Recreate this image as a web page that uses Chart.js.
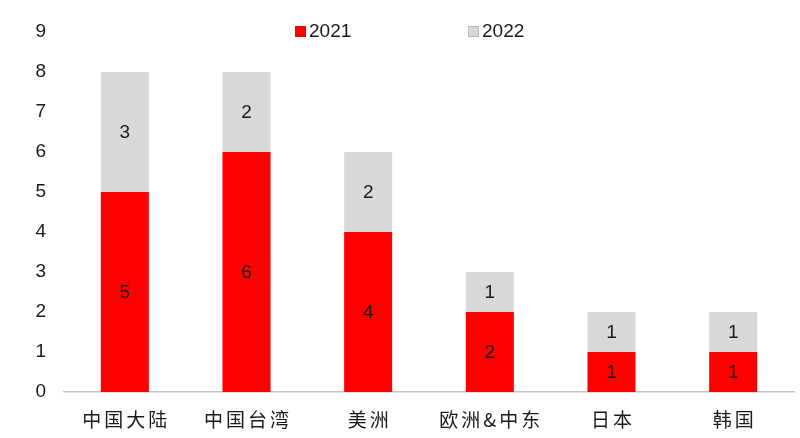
<!DOCTYPE html>
<html><head><meta charset="utf-8">
<script src="https://cdn.jsdelivr.net/npm/chart.js@4"></script>
<style>html,body{margin:0;padding:0;background:#fff}#wrap{width:800px;height:438px}</style>
</head><body><div id="wrap"><canvas id="c"></canvas></div>
<script>
const categories = ['中国大陆','中国台湾','美洲','欧洲&中东','日本','韩国'];
const series2021 = [5,6,4,2,1,1];
const series2022 = [3,2,2,1,1,1];
const seriesNames = ['2021','2022'];
const yTicks = [0,1,2,3,4,5,6,7,8,9];

const labelPlugin = {
  id:'inbarLabels',
  afterDatasetsDraw(chart){
    const ctx = chart.ctx;
    ctx.save();
    ctx.font = '19px "Liberation Sans", Arial, sans-serif';
    ctx.fillStyle = '#1a1a1a';
    ctx.textAlign = 'center';
    ctx.textBaseline = 'middle';
    chart.data.datasets.forEach((ds,di)=>{
      const meta = chart.getDatasetMeta(di);
      meta.data.forEach((bar,i)=>{
        const v = ds.data[i];
        if(!v) return;
        ctx.fillText(String(v), bar.x, (bar.y+bar.base)/2 + 1);
      });
    });
    ctx.restore();
  }
};
const legendPlugin = {
  id:'customLegend',
  afterDraw(chart){
    const ctx = chart.ctx;
    const pos = [295, 468];
    ctx.save();
    ctx.font = '19px "Liberation Sans", Arial, sans-serif';
    ctx.textBaseline = 'middle';
    ctx.textAlign = 'left';
    chart.data.datasets.forEach((ds,di)=>{
      const x = pos[di];
      ctx.fillStyle = ds.backgroundColor;
      ctx.fillRect(x, 26, 11, 11);
      if(di===1){ctx.strokeStyle='#b8b8b8';ctx.lineWidth=1;ctx.strokeRect(x+0.5,26.5,10,10);}
      ctx.fillStyle = '#1a1a1a';
      ctx.fillText(ds.label, x+14, 32);
    });
    ctx.restore();
  }
};
const spacingPlugin = {
  id:'xLetterSpacing',
  afterLayout(chart){
    const sx = chart.scales.x;
    if(sx._patched) return;
    const orig = sx.drawLabels;
    sx.drawLabels = function(area){
      const ctx = this.ctx;
      ctx.save();
      try{ ctx.letterSpacing = '3px'; }catch(e){}
      ctx.translate(1.5,0);
      orig.call(this, area);
      ctx.restore();
    };
    sx._patched = true;
  }
};

new Chart(document.getElementById('c'), {
  type:'bar',
  data:{
    labels: categories,
    datasets:[
      {label:seriesNames[0], data:series2021, backgroundColor:'#ff0000', borderWidth:0, barPercentage:0.395, categoryPercentage:1},
      {label:seriesNames[1], data:series2022, backgroundColor:'#d9d9d9', borderWidth:0, barPercentage:0.395, categoryPercentage:1}
    ]
  },
  options:{
    responsive:true, maintainAspectRatio:false, animation:false,
    layout:{padding:{top:32,right:6,left:0,bottom:0}},
    plugins:{legend:{display:false}, tooltip:{enabled:false}},
    scales:{
      x:{
        stacked:true,
        grid:{display:false, drawTicks:false},
        border:{display:true, color:'#c4c4c4', width:1.5},
        ticks:{padding:16, color:'#1a1a1a', font:{family:'"Noto Sans CJK SC", sans-serif', size:19}},
        afterFit(s){ s.height = 46; }
      },
      y:{
        stacked:true, min:0, max:9,
        grid:{display:false, drawTicks:false},
        border:{display:false},
        afterBuildTicks(s){ s.ticks = yTicks.map(v=>({value:v})); },
        ticks:{padding:18, color:'#1a1a1a', font:{family:'"Liberation Sans", Arial, sans-serif', size:19}},
        afterFit(s){ s.width = 64; }
      }
    }
  },
  plugins:[labelPlugin, legendPlugin, spacingPlugin]
});
</script></body></html>
